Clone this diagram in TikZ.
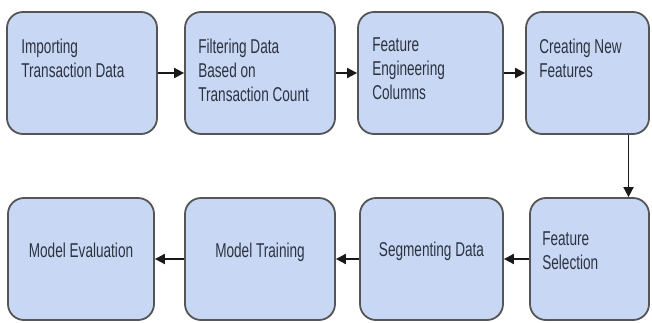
\documentclass[tikz,border=0pt]{standalone}
\usepackage{fontspec}
\setmainfont[FakeStretch=0.68]{Liberation Sans}
\usetikzlibrary{arrows.meta,calc}
\definecolor{boxfill}{HTML}{C8D8F4}
\definecolor{boxline}{HTML}{555555}
\definecolor{txtcol}{HTML}{2D3240}
\begin{document}
\begin{tikzpicture}[x=1pt,y=-1pt,
  stage/.style={draw=boxline, line width=1.8pt, fill=boxfill, rounded corners=16pt, inner sep=0pt, minimum height=122pt},
  lbl/.style={text=txtcol, font=\fontsize{20}{24}\selectfont, align=left, inner sep=0pt, anchor=north west},
  clbl/.style={text=txtcol, font=\fontsize{20}{24}\selectfont, inner sep=0pt, anchor=base},
  arr/.style={draw=black!90, line width=1.8pt, -{Triangle[length=10pt,width=10pt]}}]
\useasboundingbox[fill=white] (0,0) rectangle (652,322);
% top row
\node[stage, minimum width=150pt] (b1) at (82,73) {};
\node[stage, minimum width=150pt] (b2) at (260,73) {};
\node[stage, minimum width=145pt] (b3) at (430.5,73) {};
\node[stage, minimum width=123pt] (b4) at (587.5,73) {};
% bottom row
\node[stage, minimum width=146pt] (me) at (81,259) {};
\node[stage, minimum width=150pt] (mt) at (260,259) {};
\node[stage, minimum width=143pt] (sd) at (431.5,259) {};
\node[stage, minimum width=119pt] (fs) at (589.5,259) {};
% labels
\node[lbl] (b1t) at ([shift={(15,28)}]b1.north west) {Importing\\Transaction Data};
\node[lbl] (b2t) at ([shift={(14,28)}]b2.north west) {Filtering Data\\Based on\\Transaction Count};
\node[lbl] (b3t) at ([shift={(15,26)}]b3.north west) {Feature\\Engineering\\Columns};
\node[lbl] (b4t) at ([shift={(14,28)}]b4.north west) {Creating New\\Features};
\node[lbl] (fst) at ([shift={(13,34)}]fs.north west) {Feature\\Selection};
\node[clbl] (met) at ([shift={(0,-2)}]me.center) {Model Evaluation};
\node[clbl] (mtt) at ([shift={(0,-2)}]mt.center) {Model Training};
\node[clbl] (sdt) at ([shift={(0,-3)}]sd.center) {Segmenting Data};
% connectors
\draw[arr] (b1.east) -- (b2.west);
\draw[arr] (b2.east) -- (b3.west);
\draw[arr] (b3.east) -- (b4.west);
\draw[arr] ([xshift=41pt]b4.south) -- ([xshift=41pt]b4.south |- fs.north);
\draw[arr] (fs.west) -- (sd.east);
\draw[arr] (sd.west) -- (mt.east);
\draw[arr] (mt.west) -- (me.east);
\end{tikzpicture}
\end{document}
